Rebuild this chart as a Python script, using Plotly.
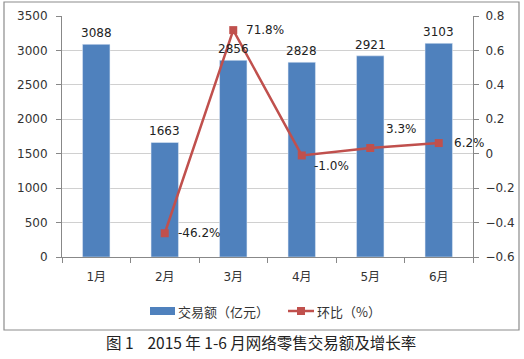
import plotly.graph_objects as go

months = ["1月", "2月", "3月", "4月", "5月", "6月"]
volume = [3088, 1663, 2856, 2828, 2921, 3103]
mom = [None, -0.462, 0.718, -0.010, 0.033, 0.062]
mom_labels = ["", "-46.2%", "71.8%", "-1.0%", "3.3%", "6.2%"]
series_names = ["交易额（亿元）", "环比（%）"]

W, H = 524, 359
L, R, T, B = 62, 473, 16, 257
pw, ph = R - L, B - T

def px(x):
    return (x - L) / pw

def py(y):
    return (B - y) / ph

BLUE = "#4F81BD"
RED = "#C0504D"
FONT = "DejaVu Sans, Noto Sans CJK SC"

fig = go.Figure()
fig.add_trace(go.Bar(x=months, y=volume, name=series_names[0], marker_color=BLUE,
                     width=0.4, showlegend=False))
fig.add_trace(go.Scatter(x=months[1:], y=mom[1:], name=series_names[1], yaxis="y2",
                         mode="lines+markers", line=dict(color=RED, width=2.5),
                         marker=dict(symbol="square", size=8, color=RED), showlegend=False))

ann = []
for m, v in zip(months, volume):
    ann.append(dict(x=m, y=v, xref="x", yref="y", text=str(v), showarrow=False,
                    yanchor="bottom", yshift=2, font=dict(size=12, color="#222")))
offs = {"-46.2%": (11, 0), "71.8%": (11, 0), "-1.0%": (10, -11), "3.3%": (14, 19), "6.2%": (13, 0)}
for m, v, t in zip(months, mom, mom_labels):
    if v is None:
        continue
    dx, dy = offs[t]
    ann.append(dict(x=m, y=v, xref="x", yref="y2", text=t, showarrow=False,
                    xanchor="left", yanchor="middle", xshift=dx, yshift=dy,
                    font=dict(size=12, color="#222")))
# legend texts
ann.append(dict(x=px(176), y=py(311), xref="paper", yref="paper", text=series_names[0],
                showarrow=False, xanchor="left", yanchor="middle",
                font=dict(size=13, color="#333", family="Noto Sans CJK SC")))
ann.append(dict(x=px(315), y=py(311), xref="paper", yref="paper", text=series_names[1],
                showarrow=False, xanchor="left", yanchor="middle",
                font=dict(size=13, color="#333", family="Noto Sans CJK SC")))
ann.append(dict(x=px(261), y=py(342), xref="paper", yref="paper",
                text="图 1    2015 年 1-6 月网络零售交易额及增长率", showarrow=False,
                xanchor="center", yanchor="middle",
                font=dict(size=15.5, color="#222", family="Noto Sans CJK SC")))

shapes = [
    dict(type="rect", xref="paper", yref="paper", x0=px(4), x1=px(519),
         y0=py(330), y1=py(2), line=dict(color="#8c8c8c", width=1.2)),
    dict(type="rect", xref="paper", yref="paper", x0=px(150), x1=px(175),
         y0=py(315), y1=py(307), fillcolor=BLUE, line=dict(width=0)),
    dict(type="line", xref="paper", yref="paper", x0=px(288), x1=px(314),
         y0=py(311), y1=py(311), line=dict(color=RED, width=2.5)),
    dict(type="rect", xref="paper", yref="paper", x0=px(297), x1=px(305),
         y0=py(315), y1=py(307), fillcolor=RED, line=dict(width=0)),
]

fig.update_layout(
    width=W, height=H,
    margin=dict(l=L, r=W - R, t=T, b=H - B, pad=0, autoexpand=False),
    paper_bgcolor="white", plot_bgcolor="white",
    font=dict(family=FONT, size=11, color="#333"),
    bargap=0.6,
    showlegend=False,
    xaxis=dict(showline=True, linecolor="#888", ticks="outside", tickson="boundaries",
               ticklen=5, tickcolor="#888", showgrid=False, range=[-0.5, 5.5],
               ticklabelstandoff=9, tickfont=dict(size=12)),
    yaxis=dict(range=[0, 3500], dtick=500, showline=True, linecolor="#888",
               ticks="outside", ticklen=5, tickcolor="#888", gridcolor="#D0D0D0",
               zeroline=False, ticklabelstandoff=6, tickfont=dict(size=12)),
    yaxis2=dict(range=[-0.6, 0.8], dtick=0.2, overlaying="y", side="right",
                showline=True, linecolor="#888", ticks="outside", ticklen=5,
                tickcolor="#888", showgrid=False, zeroline=False,
                tickformat=".1~f", ticklabelstandoff=4, tickfont=dict(size=12)),
    annotations=ann,
    shapes=shapes,
)
fig.write_html("out.html", post_script="document.body.style.margin='0';",
               config={"displayModeBar": False})
